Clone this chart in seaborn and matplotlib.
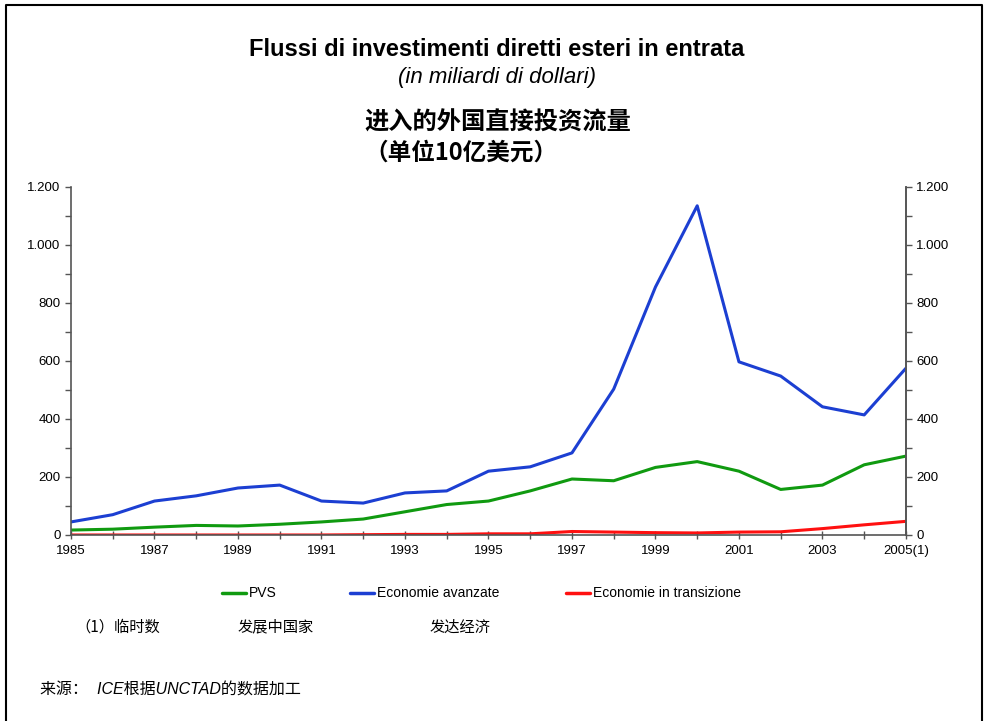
import pandas as pd
import matplotlib.pyplot as plt
import seaborn as sns
from matplotlib.ticker import MultipleLocator, FuncFormatter, FixedLocator

# =========================
# 数据
# =========================
years = list(range(1985, 2006))
pvs = [17, 20, 27, 33, 31, 37, 45, 55, 80, 105, 117, 152, 193, 187, 233, 253, 220, 157, 172, 242, 272]
avanzate = [45, 70, 117, 135, 162, 172, 117, 110, 145, 152, 220, 235, 283, 503, 855, 1135, 597, 548, 442, 414, 575]
transizione = [0, 0, 0, 0, 0, 0, 0, 1, 2, 2, 4, 4, 12, 10, 8, 7, 10, 11, 22, 35, 47]

series_names = ["PVS", "Economie avanzate", "Economie in transizione"]
series_colors = ["#109a10", "#1c3fd2", "#ff1010"]

x_labels = ["1985", "1987", "1989", "1991", "1993", "1995", "1997", "1999", "2001", "2003", "2005(1)"]

df = pd.DataFrame({
    "anno": years * 3,
    "valore": pvs + avanzate + transizione,
    "serie": [series_names[0]] * 21 + [series_names[1]] * 21 + [series_names[2]] * 21,
})

# =========================
# 样式
# =========================
sns.set_style("ticks")
plt.rcParams["font.family"] = ["Liberation Sans", "Noto Sans CJK SC", "DejaVu Sans"]
plt.rcParams["axes.unicode_minus"] = False
plt.rcParams["text.color"] = "black"

fig = plt.figure(figsize=(9.9, 7.21), dpi=100)
ax = fig.add_axes([0.0717, 0.258, 0.8434, 0.4827])

sns.lineplot(data=df, x="anno", y="valore", hue="serie", palette=series_colors,
             linewidth=2.2, ax=ax, legend=False)

ax.set_xlim(1985, 2005)
ax.set_ylim(0, 1200)
ax.set_xlabel("")
ax.set_ylabel("")

thousands = FuncFormatter(lambda v, p: f"{int(v):,}".replace(",", "."))
ax.yaxis.set_major_locator(MultipleLocator(200))
ax.yaxis.set_minor_locator(MultipleLocator(100))
ax.yaxis.set_major_formatter(thousands)
ax.xaxis.set_major_locator(FixedLocator(list(range(1985, 2006, 2))))
ax.xaxis.set_minor_locator(FixedLocator(list(range(1986, 2006, 2))))
ax.set_xticklabels(x_labels)

for side in ["left", "bottom", "right"]:
    ax.spines[side].set_color("#555555")
    ax.spines[side].set_linewidth(1.2)
ax.spines["top"].set_visible(False)
ax.tick_params(axis="both", which="major", direction="out", length=4, width=1, colors="#555555",
               labelcolor="black", labelsize=9.5)
ax.tick_params(axis="both", which="minor", direction="out", length=4, width=1, colors="#555555")
ax.tick_params(axis="x", which="both", direction="inout", length=6)
ax.tick_params(axis="x", which="major", pad=4)

ax2 = ax.twinx()
ax2.set_ylim(0, 1200)
ax2.yaxis.set_major_locator(MultipleLocator(200))
ax2.yaxis.set_minor_locator(MultipleLocator(100))
ax2.yaxis.set_major_formatter(thousands)
for side in ["left", "top", "bottom"]:
    ax2.spines[side].set_visible(False)
ax2.spines["right"].set_color("#555555")
ax2.spines["right"].set_linewidth(1.2)
ax2.tick_params(axis="y", which="both", direction="out", length=4, width=1, colors="#555555",
                labelcolor="black", labelsize=9.5)

# =========================
# 标题
# =========================
cjk = ["Noto Sans CJK SC", "DejaVu Sans"]
fig.text(0.502, 0.932, "Flussi di investimenti diretti esteri in entrata", ha="center", va="center",
         fontsize=17, fontweight="bold")
fig.text(0.502, 0.893, "(in miliardi di dollari)", ha="center", va="center",
         fontsize=16, style="italic")
fig.text(0.503, 0.830, "进入的外国直接投资流量", ha="center", va="center",
         fontsize=17.5, fontweight="bold", family=cjk)
fig.text(0.368, 0.788, "（单位10亿美元）", ha="left", va="center",
         fontsize=17, fontweight="bold", family=cjk)

# =========================
# 图例
# =========================
leg_y = 1 - 593 / 721
leg_x = [222, 350, 566]
for name, color, lx in zip(series_names, series_colors, leg_x):
    fig.add_artist(plt.Line2D([lx / 990, (lx + 24) / 990], [leg_y, leg_y], color=color, linewidth=2.5))
    fig.text((lx + 27) / 990, leg_y, name, ha="left", va="center", fontsize=10)

# =========================
# 注释
# =========================
mixed = ["Liberation Sans", "Noto Sans CJK SC", "DejaVu Sans"]
fig.text(75 / 990, 1 - 627 / 721, "（1）临时数", ha="left", va="center", fontsize=11, family=cjk)
fig.text(238 / 990, 1 - 627 / 721, "发展中国家", ha="left", va="center", fontsize=11, family=cjk, style="italic")
fig.text(430 / 990, 1 - 627 / 721, "发达经济", ha="left", va="center", fontsize=11, family=cjk, style="italic")
fig.text(40 / 990, 1 - 690 / 721, "来源：  ICE根据UNCTAD的数据加工", ha="left", va="center",
         fontsize=11.5, family=mixed, style="italic")

# 外框
frame_x = [6 / 990, 6 / 990, 982 / 990, 982 / 990]
frame_y = [0.0, 1 - 5 / 721, 1 - 5 / 721, 0.0]
fig.add_artist(plt.Line2D(frame_x, frame_y, color="black", linewidth=1.5))

fig.savefig("out.png", dpi=100)
